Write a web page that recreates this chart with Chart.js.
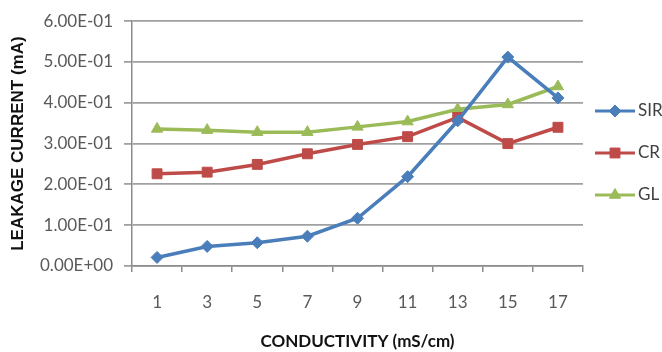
<!DOCTYPE html>
<html>
<head>
<meta charset="utf-8">
<script src="https://cdn.jsdelivr.net/npm/chart.js@4.4.0/dist/chart.umd.min.js"></script>
<style>
  html, body { margin:0; padding:0; background:#fff; }
  #wrap { width:662px; height:352px; }
</style>
</head>
<body>
<div id="wrap"><canvas id="chart" width="662" height="352"></canvas></div>
<script>
const conductivity = ["1","3","5","7","9","11","13","15","17"];
const sir = [0.021, 0.048, 0.057, 0.073, 0.117, 0.219, 0.356, 0.512, 0.412];
const cr  = [0.226, 0.230, 0.249, 0.275, 0.298, 0.317, 0.364, 0.300, 0.340];
const gl  = [0.336, 0.333, 0.328, 0.328, 0.341, 0.354, 0.384, 0.396, 0.440];
const yTickLabels = ["0.00E+00","1.00E-01","2.00E-01","3.00E-01","4.00E-01","5.00E-01","6.00E-01"];

const tickFont = { family: "Lato", size: 17 };
const gray = "#595959";

// legend drawn on the right, line + marker like the office style
const sideLegend = {
  id: "sideLegend",
  afterDraw(chart) {
    const ctx = chart.ctx;
    chart.data.datasets.forEach((ds, i) => {
      const y = 111 + i * 42;
      ctx.save();
      ctx.strokeStyle = ds.borderColor; ctx.lineWidth = 3;
      ctx.beginPath(); ctx.moveTo(595, y); ctx.lineTo(635, y); ctx.stroke();
      ctx.fillStyle = ds.backgroundColor; ctx.strokeStyle = ds.borderColor; ctx.lineWidth = 1;
      Chart.helpers.drawPoint(ctx, { pointStyle: ds.pointStyle, radius: ds.pointRadius, rotation: 0, borderWidth: 1 }, 615, y);
      ctx.fillStyle = "#404040";
      ctx.font = "17px Lato";
      ctx.textBaseline = "middle";
      ctx.fillText(ds.label, 638, y);
      ctx.restore();
    });
  }
};

new Chart(document.getElementById("chart"), {
  type: "line",
  data: {
    labels: conductivity,
    datasets: [
      { label: "SIR", data: sir, borderColor: "#4A7EBB", backgroundColor: "#4A7EBB", borderWidth: 3.5,
        pointStyle: "rectRot", pointRadius: 6, pointBorderWidth: 1 },
      { label: "CR", data: cr, borderColor: "#BE4B48", backgroundColor: "#BE4B48", borderWidth: 3.5,
        pointStyle: "rect", pointRadius: 7, pointBorderWidth: 1 },
      { label: "GL", data: gl, borderColor: "#9BBB59", backgroundColor: "#9BBB59", borderWidth: 3.5,
        pointStyle: "triangle", pointRadius: 6.5, pointBorderWidth: 1 }
    ]
  },
  options: {
    responsive: false,
    animation: false,
    layout: { padding: { top: 17, right: 79, left: 0, bottom: 0 } },
    plugins: { legend: { display: false }, tooltip: { enabled: false } },
    scales: {
      x: {
        offset: true,
        grid: { display: true, offset: true, drawOnChartArea: false, drawTicks: true, tickLength: 6, color: "#8c8c8c", lineWidth: 1.5 },
        border: { display: true, color: "#8c8c8c", width: 1.5 },
        ticks: { color: gray, font: tickFont, padding: 20, maxRotation: 0 },
        title: { display: true, text: "CONDUCTIVITY (mS/cm)", color: "#111", font: { family: "Lato", size: 17, weight: "bold" }, padding: { top: 7, bottom: 0 } },
        afterFit(s) { s.height = 86; }
      },
      y: {
        min: 0, max: 0.6,
        afterBuildTicks(s) { s.ticks = yTickLabels.map((t, i) => ({ value: i * 0.1 })); },
        grid: { color: "#a0a0a0", lineWidth: 1.8, tickLength: 8 },
        border: { display: true, color: "#8c8c8c", width: 1.5 },
        ticks: { color: gray, font: tickFont, padding: 11, callback: (v, i) => yTickLabels[i] },
        title: { display: true, text: "LEAKAGE CURRENT (mA)", color: "#111", font: { family: "Liberation Sans", size: 17, weight: "bold" }, padding: { top: 8, bottom: 0 } },
        afterFit(s) { s.width = 132; }
      }
    }
  },
  plugins: [sideLegend]
});
</script>
</body>
</html>
